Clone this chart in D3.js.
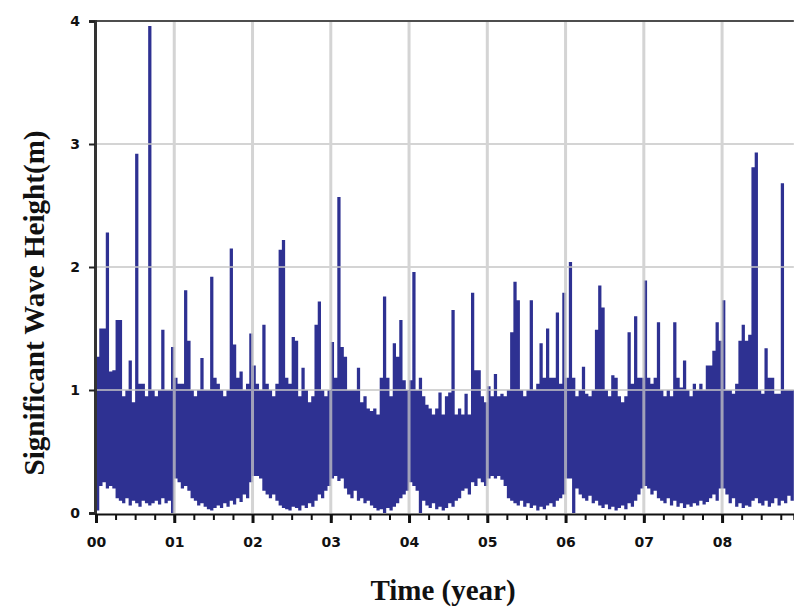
<!DOCTYPE html>
<html>
<head>
<meta charset="utf-8">
<script src="https://cdn.jsdelivr.net/npm/d3@7/dist/d3.min.js"></script>
<style>
  html, body { margin: 0; padding: 0; background: #fff; }
  svg { display: block; }
</style>
</head>
<body>
<svg id="chart" width="794" height="608"></svg>
<script>
// year labels on the time axis
const yearLabels = ["00", "01", "02", "03", "04", "05", "06", "07", "08"];
const heightTicks = [0, 1, 2, 3, 4];
const binsPerYear = 24; // half-month bins

// highest wave height in each half-month bin (m), one row per year
const waveHigh = [
    1.27, 1.50, 1.50, 2.28, 1.15, 1.16, 1.57, 1.57, 0.95, 1.00, 1.24, 0.90, 2.92, 1.05, 1.05, 0.95, 3.96, 1.00, 0.95, 1.00, 1.49, 1.00, 1.00, 1.35,
    1.10, 1.05, 1.05, 1.81, 1.40, 1.00, 0.95, 1.00, 1.26, 1.00, 1.00, 1.92, 1.10, 1.05, 1.00, 0.95, 1.00, 2.15, 1.37, 1.10, 1.15, 1.00, 1.05, 1.46,
    1.20, 1.05, 1.00, 1.53, 1.05, 1.00, 0.95, 1.05, 2.14, 2.22, 1.10, 1.05, 1.43, 1.40, 0.95, 1.18, 1.00, 0.90, 0.95, 1.53, 1.72, 1.00, 0.95, 1.00,
    1.39, 1.10, 2.57, 1.35, 1.27, 1.00, 1.00, 1.00, 1.18, 0.90, 0.95, 0.85, 0.83, 0.85, 0.80, 1.10, 1.76, 1.10, 0.95, 1.38, 1.27, 1.57, 1.08, 1.00,
    1.08, 1.96, 1.00, 1.10, 0.95, 0.88, 0.85, 0.80, 0.85, 0.98, 0.80, 0.95, 0.98, 1.65, 0.80, 0.85, 0.80, 0.97, 0.80, 1.79, 1.16, 1.16, 0.95, 0.90,
    1.03, 0.95, 1.13, 0.95, 0.97, 0.95, 1.00, 1.47, 1.88, 1.73, 1.00, 0.95, 1.00, 1.73, 1.00, 1.05, 1.38, 1.10, 1.50, 1.10, 1.10, 1.63, 1.05, 1.79,
    1.10, 2.04, 1.10, 0.95, 1.00, 1.19, 0.97, 0.95, 1.00, 1.49, 1.85, 1.67, 1.00, 0.95, 1.12, 1.10, 0.95, 0.90, 0.95, 1.47, 1.05, 1.60, 1.10, 1.10,
    1.89, 1.10, 1.05, 1.10, 1.55, 1.00, 0.95, 1.00, 0.95, 1.55, 1.10, 1.02, 1.24, 1.00, 0.95, 1.05, 1.00, 1.05, 1.00, 1.20, 1.20, 1.32, 1.55, 1.40,
    1.73, 1.00, 1.00, 0.97, 1.05, 1.40, 1.53, 1.40, 1.45, 2.81, 2.93, 1.00, 0.97, 1.34, 1.10, 1.10, 0.97, 0.97, 2.68, 1.00, 1.00, 1.00
];

// lowest wave height in each half-month bin (m)
const waveLow = [
    0.02, 0.22, 0.25, 0.20, 0.22, 0.20, 0.12, 0.10, 0.08, 0.12, 0.06, 0.10, 0.08, 0.05, 0.10, 0.08, 0.06, 0.08, 0.10, 0.07, 0.12, 0.08, 0.10, 0.00,
    0.28, 0.25, 0.20, 0.22, 0.18, 0.12, 0.10, 0.06, 0.08, 0.05, 0.03, 0.02, 0.04, 0.06, 0.04, 0.08, 0.05, 0.10, 0.07, 0.12, 0.09, 0.15, 0.12, 0.25,
    0.30, 0.30, 0.28, 0.18, 0.15, 0.12, 0.15, 0.10, 0.06, 0.04, 0.03, 0.02, 0.05, 0.04, 0.02, 0.06, 0.04, 0.08, 0.05, 0.10, 0.15, 0.12, 0.18, 0.22,
    0.28, 0.30, 0.26, 0.28, 0.20, 0.15, 0.12, 0.18, 0.10, 0.12, 0.08, 0.10, 0.06, 0.04, 0.02, 0.03, 0.00, 0.04, 0.02, 0.05, 0.08, 0.12, 0.15, 0.18,
    0.25, 0.22, 0.18, 0.00, 0.10, 0.06, 0.04, 0.08, 0.03, 0.05, 0.02, 0.04, 0.08, 0.05, 0.10, 0.12, 0.18, 0.20, 0.15, 0.25, 0.22, 0.28, 0.25, 0.22,
    0.28, 0.30, 0.28, 0.30, 0.27, 0.22, 0.12, 0.10, 0.08, 0.06, 0.10, 0.05, 0.08, 0.04, 0.06, 0.02, 0.05, 0.03, 0.06, 0.08, 0.05, 0.10, 0.12, 0.15,
    0.28, 0.28, 0.00, 0.20, 0.15, 0.12, 0.10, 0.14, 0.08, 0.10, 0.06, 0.04, 0.07, 0.03, 0.05, 0.02, 0.04, 0.06, 0.03, 0.08, 0.05, 0.10, 0.15, 0.20,
    0.22, 0.20, 0.15, 0.18, 0.12, 0.10, 0.08, 0.12, 0.06, 0.10, 0.05, 0.08, 0.04, 0.07, 0.05, 0.08, 0.06, 0.10, 0.07, 0.09, 0.12, 0.15, 0.10, 0.20,
    0.20, 0.15, 0.08, 0.12, 0.05, 0.08, 0.04, 0.06, 0.05, 0.10, 0.12, 0.08, 0.06, 0.10, 0.05, 0.08, 0.12, 0.06, 0.10, 0.08, 0.14, 0.10
];

const svg = d3.select('#chart');
const waveColor = '#2e3192';
const gridColor = '#c6c6c6';
const tEnd = waveHigh.length / binsPerYear;

const x = d3.scaleLinear().domain([0, tEnd]).range([96, 96 + tEnd * 78.26]);
const y = d3.scaleLinear().domain([0, 4]).range([513, 21]);

const bins = waveHigh.map((h, i) => ({ t: i / binsPerYear, hi: h, lo: waveLow[i] }));
// closing point so the last step gets its full width
bins.push({ t: tEnd, hi: waveHigh[waveHigh.length - 1], lo: waveLow[waveLow.length - 1] });

// wave record as one stepped band from low to high
const band = d3.area()
    .curve(d3.curveStepAfter)
    .x(d => x(d.t))
    .y0(d => y(d.lo))
    .y1(d => y(d.hi));

svg.append('path')
    .datum(bins)
    .attr('d', band)
    .attr('fill', waveColor);

// grid on top, slightly see-through like the scan
const grid = svg.append('g').attr('opacity', 0.75);
grid.selectAll('line.v')
    .data(d3.range(1, yearLabels.length))
    .join('line')
    .attr('class', 'v')
    .attr('x1', d => x(d)).attr('x2', d => x(d))
    .attr('y1', y(4)).attr('y2', y(0))
    .attr('stroke', gridColor)
    .attr('stroke-width', 3);
grid.selectAll('line.h')
    .data(heightTicks.filter(d => d > 0))
    .join('line')
    .attr('class', 'h')
    .attr('x1', x(0)).attr('x2', x(tEnd))
    .attr('y1', d => y(d)).attr('y2', d => y(d))
    .attr('stroke', gridColor)
    .attr('stroke-width', 2);

// top frame
svg.append('line')
    .attr('x1', x(0)).attr('x2', x(tEnd))
    .attr('y1', y(4)).attr('y2', y(4))
    .attr('stroke', '#222')
    .attr('stroke-width', 1.5);

// left axis
const yAxis = svg.append('g')
    .attr('transform', `translate(${x(0) - 1},0)`)
    .call(d3.axisLeft(y).tickValues(heightTicks).tickFormat(d3.format('d')).tickSize(6).tickPadding(9));
yAxis.select('.domain').attr('stroke', '#333').attr('stroke-width', 3);
yAxis.selectAll('.tick line').attr('stroke', '#222').attr('stroke-width', 2);
yAxis.selectAll('.tick text')
    .attr('font-family', 'DejaVu Sans, sans-serif')
    .attr('font-weight', 'bold')
    .attr('font-size', 14)
    .attr('fill', '#111');

// bottom axis: quarter-year minor ticks, yearly labelled ticks
const xMinor = svg.append('g')
    .attr('transform', `translate(0,${y(0) + 1})`)
    .call(d3.axisBottom(x).tickValues(d3.range(0, tEnd, 0.25)).tickFormat('').tickSize(6));
xMinor.select('.domain').attr('stroke', '#111').attr('stroke-width', 2);
xMinor.selectAll('.tick line').attr('stroke', '#111').attr('stroke-width', 2);

const xAxis = svg.append('g')
    .attr('transform', `translate(0,${y(0) + 1})`)
    .call(d3.axisBottom(x).tickValues(d3.range(0, yearLabels.length)).tickFormat(i => yearLabels[i]).tickSize(9).tickPadding(14));
xAxis.select('.domain').remove();
xAxis.selectAll('.tick line').attr('stroke', '#111').attr('stroke-width', 3);
xAxis.selectAll('.tick text')
    .attr('font-family', 'DejaVu Sans, sans-serif')
    .attr('font-weight', 'bold')
    .attr('font-size', 14)
    .attr('fill', '#111');

// axis titles
svg.append('text')
    .attr('x', 443)
    .attr('y', 600)
    .attr('text-anchor', 'middle')
    .attr('font-family', 'Liberation Serif, serif')
    .attr('font-weight', 'bold')
    .attr('font-size', 29)
    .attr('fill', '#111')
    .text('Time (year)');

svg.append('text')
    .attr('transform', 'translate(44,303) rotate(-90)')
    .attr('text-anchor', 'middle')
    .attr('font-family', 'Liberation Serif, serif')
    .attr('font-weight', 'bold')
    .attr('font-size', 29)
    .attr('fill', '#111')
    .attr('textLength', 345)
    .attr('lengthAdjust', 'spacingAndGlyphs')
    .text('Significant Wave Height(m)');
</script>
</body>
</html>
